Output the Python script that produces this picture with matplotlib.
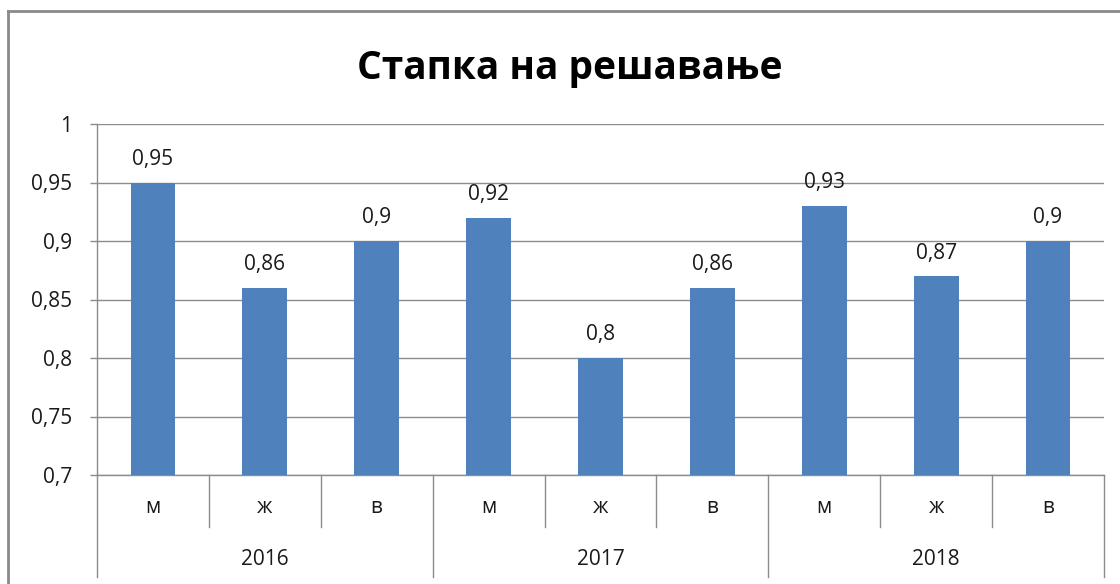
import matplotlib.pyplot as plt
from matplotlib.lines import Line2D
from matplotlib.ticker import FixedLocator, FuncFormatter

title = "Стапка на решавање"
years = ["2016", "2017", "2018"]
groups = ["м", "ж", "в"]
values = [0.95, 0.86, 0.90, 0.92, 0.80, 0.86, 0.93, 0.87, 0.90]
y_ticks = [0.7, 0.75, 0.8, 0.85, 0.9, 0.95, 1.0]

bar_color = "#4F81BD"
line_color = "#8C8C8C"
text_color = "#1A1A1A"

plt.rcParams['font.family'] = ['Open Sans', 'DejaVu Sans']


def fmt(v):
    return f"{v:g}".replace(".", ",")


fig = plt.figure(figsize=(11.2, 5.84), dpi=100)
W, H = 1120, 584
ax = fig.add_axes([97 / W, (H - 475) / H, (1104 - 97) / W, (475 - 124) / H])

x = list(range(len(values)))
bars = ax.bar(x, values, width=0.4, color=bar_color, zorder=3)

for xi, v in zip(x, values):
    ax.annotate(fmt(v), (xi, v), xytext=(0, 9), textcoords="offset points",
                ha="center", va="bottom", fontsize=15, color=text_color)

ax.set_xlim(-0.5, len(values) - 0.5)
ax.set_ylim(0.7, 1.0)
ax.yaxis.set_major_locator(FixedLocator(y_ticks))
ax.yaxis.set_major_formatter(FuncFormatter(lambda v, p: fmt(round(v, 2))))
ax.tick_params(axis="y", length=5, width=1, color=line_color, labelsize=15,
               labelcolor=text_color, pad=13)
ax.set_xticks([])
ax.grid(axis="y", color=line_color, linewidth=1, zorder=0)

for side in ["top", "right"]:
    ax.spines[side].set_visible(False)
for side in ["left", "bottom"]:
    ax.spines[side].set_color(line_color)
    ax.spines[side].set_linewidth(1)

# two-level category axis
trans = ax.get_xaxis_transform()
n = len(groups)
for i, lab in enumerate(groups * len(years)):
    ax.text(i, -0.094, lab, transform=trans, ha="center", va="center",
            fontsize=15, color=text_color)
for j, yr in enumerate(years):
    ax.text(j * n + (n - 1) / 2, -0.242, yr, transform=trans, ha="center",
            va="center", fontsize=15, color=text_color)
for b in range(len(values) + 1):
    xb = b - 0.5
    bottom = -0.291 if b % n == 0 else -0.148
    ax.add_line(Line2D([xb, xb], [0, bottom], transform=trans, color=line_color,
                       linewidth=1, clip_on=False))

fig.text(570 / W, 1 - 68 / H, title, ha="center", va="center", fontsize=28,
         fontweight="bold", color="black")

# outer chart frame (left and top edges visible)
fig.add_artist(Line2D([8 / W, 8 / W], [0, 1 - 11 / H], transform=fig.transFigure,
                      color="#8A8A8A", linewidth=2))
fig.add_artist(Line2D([8 / W, 1], [1 - 11 / H, 1 - 11 / H], transform=fig.transFigure,
                      color="#8A8A8A", linewidth=2))

fig.savefig("out.png", dpi=100)
